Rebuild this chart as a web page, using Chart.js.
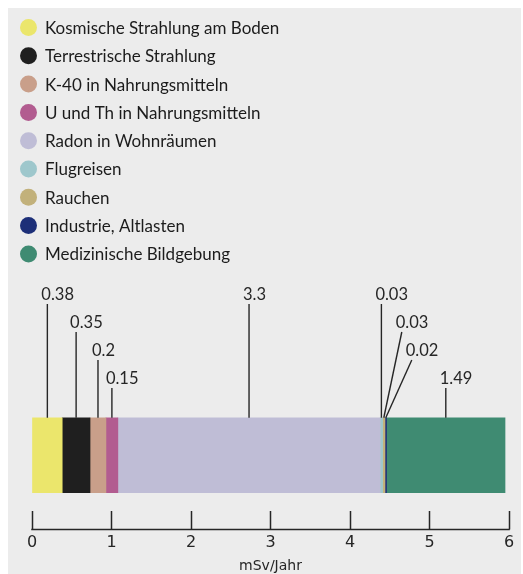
<!DOCTYPE html>
<html>
<head>
<meta charset="utf-8">
<script src="https://cdn.jsdelivr.net/npm/chart.js@4/dist/chart.umd.min.js"></script>
<style>
  html, body { margin: 0; padding: 0; background: #fff; }
  #wrap { position: relative; width: 523px; height: 574px; }
</style>
</head>
<body>
<div id="wrap"><canvas id="canvas" width="523" height="574"></canvas></div>
<script>
// radiation sources and their yearly dose (mSv/Jahr)
const sources = [
  'Kosmische Strahlung am Boden',
  'Terrestrische Strahlung',
  'K-40 in Nahrungsmitteln',
  'U und Th in Nahrungsmitteln',
  'Radon in Wohnräumen',
  'Flugreisen',
  'Rauchen',
  'Industrie, Altlasten',
  'Medizinische Bildgebung'
];
const doses = [0.38, 0.35, 0.2, 0.15, 3.3, 0.03, 0.03, 0.02, 1.49];
const colors = ['#ebe66c', '#1f1f1f', '#c99f8a', '#b25c90', '#bfbdd6', '#9ec7cc', '#c2b17b', '#1d2f78', '#3f8b72'];
const xTicks = [0, 1, 2, 3, 4, 5, 6];
const xTitle = 'mSv/Jahr';

// where the value labels sit above the bar: row index and sideways shift per segment
const labelRow = [0, 1, 2, 3, 0, 0, 1, 2, 3];
const labelShift = [0, 0, 0, 0, 0, 0, 18, 26, 0];

const ink = '#262626';

// grey panel behind everything
const panelBg = {
  id: 'panelBg',
  beforeDraw(chart) {
    const c = chart.ctx;
    c.save();
    c.fillStyle = '#ffffff';
    c.fillRect(0, 0, chart.width, chart.height);
    c.fillStyle = '#ececec';
    c.fillRect(8, 8, chart.width - 10, chart.height - 8);
    c.restore();
  }
};

// legend: one entry per row with a round marker
const rowLegend = {
  id: 'rowLegend',
  afterDraw(chart) {
    const c = chart.ctx;
    c.save();
    c.font = '17px Lato';
    c.textBaseline = 'middle';
    chart.data.datasets.forEach((ds, i) => {
      const y = 27.5 + i * 28.3;
      c.beginPath();
      c.arc(28.5, y, 8.5, 0, Math.PI * 2);
      c.fillStyle = ds.backgroundColor;
      c.fill();
      c.fillStyle = '#1c1c1c';
      c.fillText(ds.label, 45, y + 1);
    });
    c.restore();
  }
};

// value labels with leader lines down to each segment
const leaderLabels = {
  id: 'leaderLabels',
  afterDatasetsDraw(chart) {
    const c = chart.ctx;
    c.save();
    c.font = '16.5px Lato';
    c.textBaseline = 'middle';
    c.textAlign = 'left';
    c.strokeStyle = ink;
    c.lineWidth = 1.4;
    chart.data.datasets.forEach((ds, i) => {
      const el = chart.getDatasetMeta(i).data[0];
      const p = el.getProps(['x', 'base', 'y', 'height'], true);
      const cx = (p.x + p.base) / 2;
      const barTop = p.y - p.height / 2;
      const ty = 295 + labelRow[i] * 28;
      const lx = cx + labelShift[i];
      c.beginPath();
      c.moveTo(lx, ty + 9);
      c.lineTo(cx, barTop);
      c.stroke();
      c.fillStyle = ink;
      c.fillText(String(ds.data[0]), lx - 6, ty);
    });
    c.restore();
  }
};

// axis baseline under the upward-looking ticks
const axisLine = {
  id: 'axisLine',
  afterDraw(chart) {
    const x = chart.scales.x;
    const c = chart.ctx;
    const y = chart.chartArea.bottom + x.options.grid.tickLength;
    c.save();
    c.strokeStyle = ink;
    c.lineWidth = 1.5;
    c.beginPath();
    c.moveTo(x.getPixelForValue(xTicks[0]) - 0.75, y);
    c.lineTo(x.getPixelForValue(xTicks[xTicks.length - 1]) + 0.75, y);
    c.stroke();
    c.restore();
  }
};

const datasets = sources.map((s, i) => ({
  label: s,
  data: [doses[i]],
  backgroundColor: colors[i],
  borderWidth: 0,
  barThickness: 75
}));

const ctx = document.getElementById('canvas').getContext('2d');
const chart = new Chart(ctx, {
  type: 'bar',
  data: { labels: [''], datasets: datasets },
  options: {
    indexAxis: 'y',
    responsive: false,
    animation: false,
    devicePixelRatio: 1,
    layout: { padding: { left: 32, right: 14, top: 400, bottom: -4 } },
    plugins: {
      legend: { display: false },
      tooltip: { enabled: false }
    },
    scales: {
      x: {
        stacked: true,
        min: xTicks[0],
        max: xTicks[xTicks.length - 1],
        afterBuildTicks(scale) { scale.ticks = xTicks.map(v => ({ value: v })); },
        grid: { drawOnChartArea: false, drawTicks: true, tickLength: 19, tickColor: ink, tickWidth: 1.5 },
        border: { display: false },
        ticks: { padding: 3.5, color: ink, font: { family: 'DejaVu Sans', size: 16 }, maxRotation: 0 },
        title: { display: true, text: xTitle, color: ink, font: { family: 'DejaVu Sans', size: 14 }, padding: { top: 2.5, bottom: 3 } }
      },
      y: { stacked: true, display: false }
    }
  },
  plugins: [panelBg, rowLegend, leaderLabels, axisLine]
});
</script>
</body>
</html>
